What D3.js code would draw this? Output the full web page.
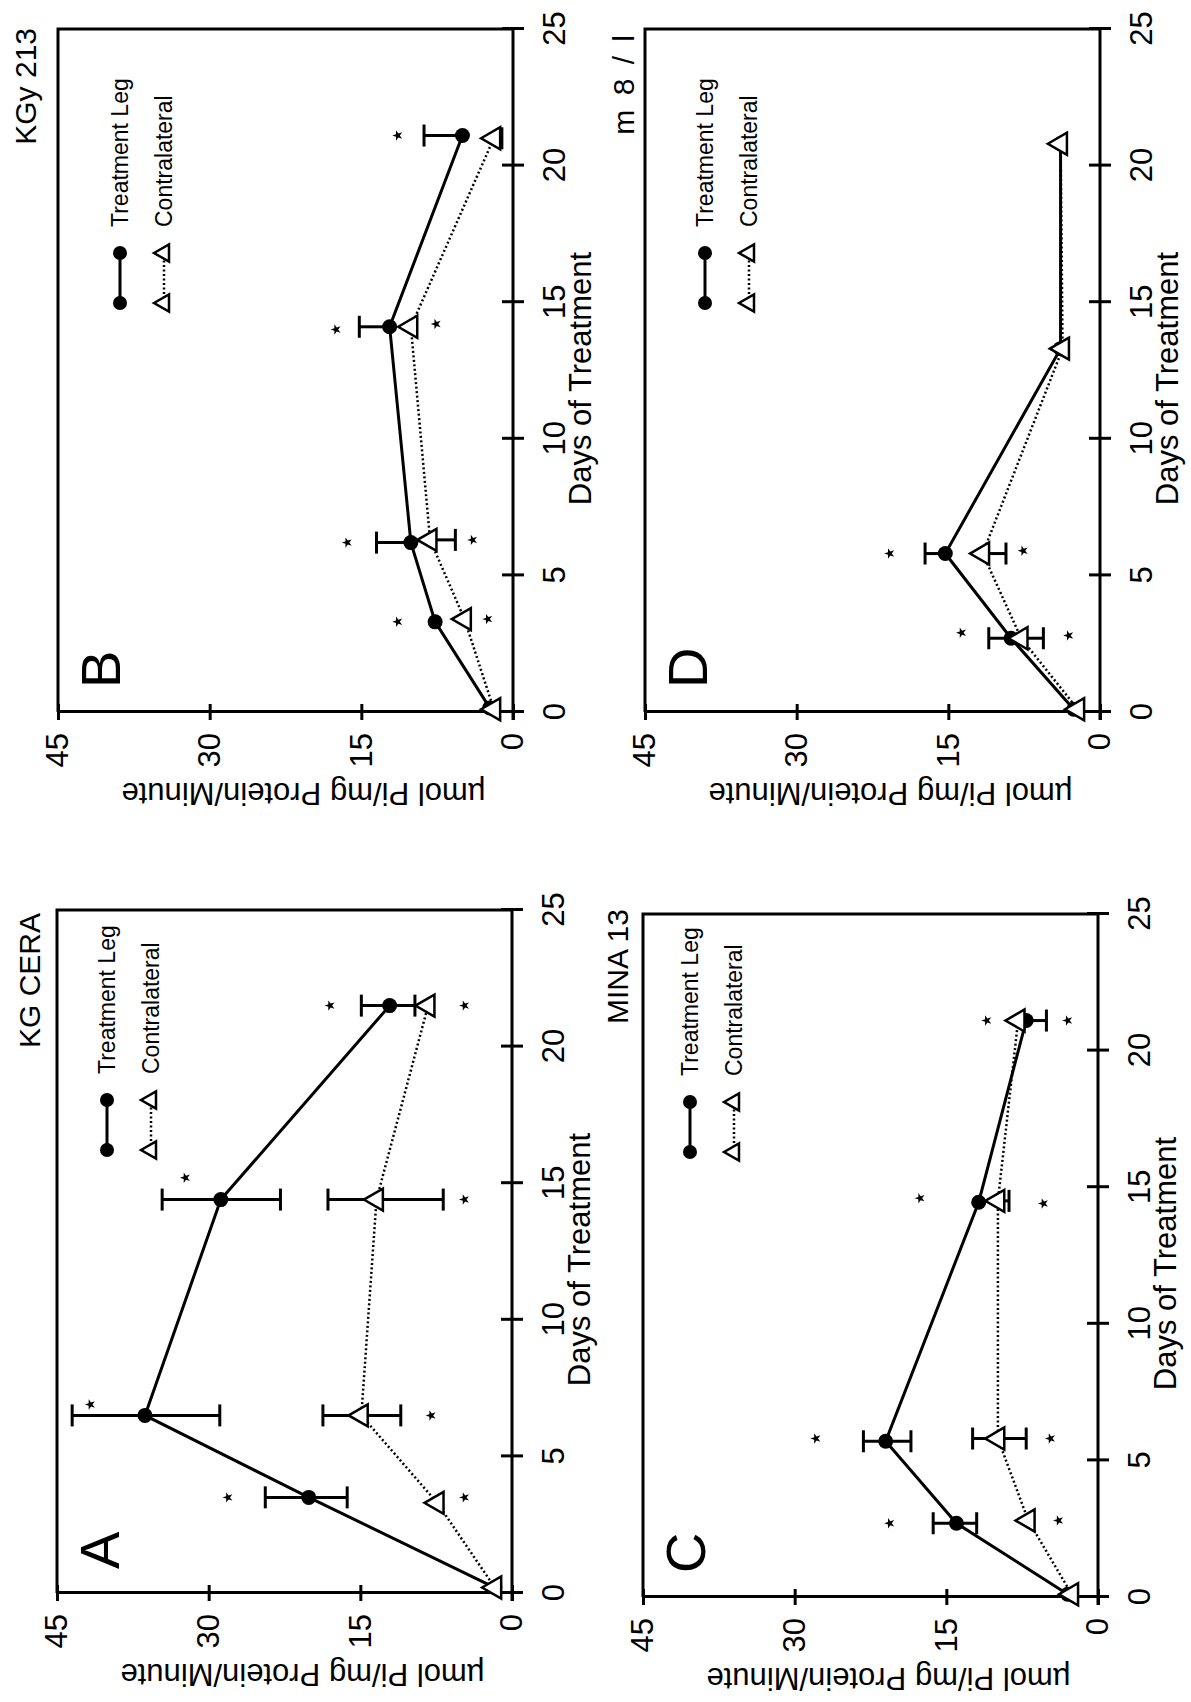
<!DOCTYPE html>
<html>
<head>
<meta charset="utf-8">
<script src="https://cdn.jsdelivr.net/npm/d3@7"></script>
<style>
  body { margin: 0; background: #fff; }
  svg { display: block; font-family: "Liberation Sans", Arial, Helvetica, sans-serif; }
</style>
</head>
<body>
<svg id="chart"></svg>
<script>
const DAY_TICKS = [0, 5, 10, 15, 20, 25];
const VALUE_TICKS = [0, 15, 30, 45];
const SERIES_NAMES = ['Treatment Leg', 'Contralateral'];
const X_TITLE = 'Days of Treatment';
const Y_TITLE = 'µmol Pi/mg Protein/Minute';

// panel A - KG CERA
const A_TREAT_DAYS = [0.2, 3.5, 6.5, 14.4, 21.5];
const A_TREAT = [1.7, 20.1, 36.3, 28.8, 12.1];
const A_TREAT_UP = [0, 4.3, 7.2, 5.8, 2.8];
const A_TREAT_DOWN = [0, 3.8, 7.4, 5.9, 2.5];
const A_CONTRA_DAYS = [0.2, 3.3, 6.5, 14.4, 21.5];
const A_CONTRA = [1.7, 7.4, 14.9, 13.4, 8.3];
const A_CONTRA_UP = [0, 0, 3.8, 4.8, 0];
const A_CONTRA_DOWN = [0, 0, 3.9, 6.6, 0];
const A_STARS = [[3.5, 28.1], [3.5, 4.7], [6.9, 41.7], [6.5, 8.0], [15.2, 32.3], [14.4, 4.7], [21.5, 18.0], [21.5, 4.7]];

// panel B - KGy 213
const B_TREAT_DAYS = [0.15, 3.3, 6.2, 14.1, 21.1];
const B_TREAT = [2.3, 7.7, 10.1, 12.2, 5.0];
const B_TREAT_UP = [0, 0, 3.4, 3.0, 3.8];
const B_TREAT_DOWN = [0, 0, 0, 0, 0];
const B_CONTRA_DAYS = [0.1, 3.4, 6.3, 14.1, 21.0];
const B_CONTRA = [1.9, 4.8, 8.2, 10.1, 1.9];
const B_CONTRA_UP = [0, 0, 0, 0, 0];
const B_CONTRA_DOWN = [0, 0, 2.5, 0, 0.8];
const B_STARS = [[3.3, 11.4], [3.4, 2.5], [6.2, 16.4], [6.3, 4.0], [14.0, 17.5], [14.2, 7.6], [21.1, 11.4]];

// panel C - MINA 13
const C_TREAT_DAYS = [0.1, 2.7, 5.7, 14.45, 21.1];
const C_TREAT = [3.0, 14.0, 21.0, 11.8, 7.1];
const C_TREAT_UP = [0, 2.3, 2.2, 0, 0];
const C_TREAT_DOWN = [0, 2.0, 2.5, 0, 2.0];
const C_CONTRA_DAYS = [0.1, 2.8, 5.8, 14.5, 21.1];
const C_CONTRA = [2.6, 6.9, 9.9, 9.9, 7.9];
const C_CONTRA_UP = [0, 0, 2.5, 0, 0];
const C_CONTRA_DOWN = [0, 0, 2.8, 1.1, 0];
const C_STARS = [[5.8, 27.9], [5.8, 4.7], [2.7, 20.6], [2.8, 3.9], [14.6, 17.6], [14.4, 5.4], [21.1, 11.0], [21.1, 3.0]];

// panel D - m 8 / l
const D_TREAT_DAYS = [0.1, 2.7, 5.8, 13.3, 20.8];
const D_TREAT = [2.6, 8.8, 15.3, 3.9, 3.9];
const D_TREAT_UP = [0, 2.2, 2.0, 0, 0];
const D_TREAT_DOWN = [0, 0, 0, 0, 0];
const D_CONTRA_DAYS = [0.1, 2.7, 5.8, 13.3, 20.8];
const D_CONTRA = [2.2, 7.8, 11.6, 3.7, 3.9];
const D_CONTRA_UP = [0, 0, 0, 0, 0];
const D_CONTRA_DOWN = [0, 2.2, 2.3, 0, 0];
const D_STARS = [[2.9, 13.7], [2.8, 3.1], [5.8, 20.8], [5.9, 7.6]];

const W = 683, H = 455;

const PANELS = [
  { key: 'A', note: 'KG CERA', x: 109, y: 57, noteX: 680, noteY: -17, legX: 443, legY: 50,
    treat: [A_TREAT_DAYS, A_TREAT, A_TREAT_UP, A_TREAT_DOWN],
    contra: [A_CONTRA_DAYS, A_CONTRA, A_CONTRA_UP, A_CONTRA_DOWN], stars: A_STARS },
  { key: 'B', note: 'KGy 213', x: 990, y: 58, noteX: 684, noteY: -22, legX: 409, legY: 62,
    treat: [B_TREAT_DAYS, B_TREAT, B_TREAT_UP, B_TREAT_DOWN],
    contra: [B_CONTRA_DAYS, B_CONTRA, B_CONTRA_UP, B_CONTRA_DOWN], stars: B_STARS },
  { key: 'C', note: 'MINA 13', x: 105, y: 643, noteX: 688, noteY: -15, legX: 445, legY: 47,
    treat: [C_TREAT_DAYS, C_TREAT, C_TREAT_UP, C_TREAT_DOWN],
    contra: [C_CONTRA_DAYS, C_CONTRA, C_CONTRA_UP, C_CONTRA_DOWN], stars: C_STARS },
  { key: 'D', note: 'm 8 / l', x: 990, y: 645, noteX: 680, noteY: -11, legX: 409, legY: 60,
    treat: [D_TREAT_DAYS, D_TREAT, D_TREAT_UP, D_TREAT_DOWN],
    contra: [D_CONTRA_DAYS, D_CONTRA, D_CONTRA_UP, D_CONTRA_DOWN], stars: D_STARS },
];

const svg = d3.select('#chart')
  .attr('width', 1191)
  .attr('height', 1702);

svg.append('rect').attr('width', 1191).attr('height', 1702).attr('fill', '#fff');

// the page is printed sideways: draw upright, then turn it
const page = svg.append('g')
  .attr('transform', 'translate(0,1702) rotate(-90)');

const x = d3.scaleLinear().domain([0, 25]).range([0, W]);
const y = d3.scaleLinear().domain([0, 45]).range([H, 0]);

const triangle = d3.symbol().type(d3.symbolTriangle).size(210);
const star = d3.symbol().type(d3.symbolStar).size(34);

const rows = s => s[0].map((d, i) => ({ day: d, v: s[1][i], up: s[2][i], down: s[3][i] }));

PANELS.forEach(P => {
  const g = page.append('g').attr('transform', `translate(${P.x},${P.y})`);

  // frame (top and right sides)
  g.append('path')
    .attr('d', `M0,0H${W}V${H}`)
    .attr('fill', 'none').attr('stroke', '#000').attr('stroke-width', 3);

  const ax = g.append('g')
    .attr('transform', `translate(0,${H})`)
    .call(d3.axisBottom(x).tickValues(DAY_TICKS).tickSize(11).tickSizeOuter(0));
  ax.select('.domain').attr('stroke-width', 3).attr('d', `M-8,0H${W}`);
  ax.selectAll('.tick line').attr('y1', -11).attr('stroke-width', 3);
  ax.selectAll('.tick text')
    .attr('y', 30).attr('dy', '0.71em')
    .attr('font-size', 31).attr('font-family', null).attr('fill', '#000');

  const ay = g.append('g')
    .call(d3.axisLeft(y).tickValues(VALUE_TICKS).tickSize(8).tickPadding(13).tickSizeOuter(0));
  ay.select('.domain').attr('stroke-width', 3);
  ay.selectAll('.tick line').attr('x1', 8).attr('stroke-width', 3);
  ay.selectAll('.tick text')
    .attr('font-size', 31).attr('font-family', null).attr('fill', '#000');

  g.append('text')
    .attr('x', W / 2 - 8).attr('y', H + 78)
    .attr('text-anchor', 'middle').attr('font-size', 31)
    .text(X_TITLE);

  g.append('text')
    .attr('transform', `translate(-71,${H / 2 + 18}) rotate(-90)`)
    .attr('text-anchor', 'middle').attr('font-size', 31)
    .text(Y_TITLE);

  g.append('text')
    .attr('x', 24).attr('y', 62)
    .attr('font-size', 56)
    .text(P.key);

  g.append('text')
    .attr('x', P.noteX).attr('y', P.noteY)
    .attr('text-anchor', 'end').attr('font-size', 30)
    .attr('letter-spacing', P.key === 'D' ? 3 : 0)
    .text(P.note);

  const treat = rows(P.treat);
  const contra = rows(P.contra);
  const line = d3.line().x(d => x(d.day)).y(d => y(d.v));

  g.append('path').datum(contra)
    .attr('d', line).attr('fill', 'none')
    .attr('stroke', '#000').attr('stroke-width', 2.5).attr('stroke-dasharray', '2,2.5');
  g.append('path').datum(treat)
    .attr('d', line).attr('fill', 'none')
    .attr('stroke', '#000').attr('stroke-width', 3);

  // error bars
  [...treat, ...contra].filter(d => d.up || d.down).forEach(d => {
    const cx = x(d.day);
    const y0 = y(d.v - d.down), y1 = y(d.v + d.up);
    const eb = g.append('g').attr('stroke', '#000').attr('stroke-width', 3);
    eb.append('line').attr('x1', cx).attr('x2', cx).attr('y1', y0).attr('y2', y1);
    if (d.up) eb.append('line').attr('x1', cx - 11).attr('x2', cx + 11).attr('y1', y1).attr('y2', y1);
    if (d.down) eb.append('line').attr('x1', cx - 11).attr('x2', cx + 11).attr('y1', y0).attr('y2', y0);
  });

  g.selectAll('circle.treat').data(treat).enter()
    .append('circle').attr('class', 'treat')
    .attr('cx', d => x(d.day)).attr('cy', d => y(d.v)).attr('r', 7.5)
    .attr('fill', '#000');

  g.selectAll('path.contra').data(contra).enter()
    .append('path').attr('class', 'contra')
    .attr('transform', d => `translate(${x(d.day)},${y(d.v)})`)
    .attr('d', triangle)
    .attr('fill', '#fff').attr('stroke', '#000').attr('stroke-width', 2.5);

  g.selectAll('path.star').data(P.stars).enter()
    .append('path').attr('class', 'star')
    .attr('transform', d => `translate(${x(d[0])},${y(d[1])})`)
    .attr('d', star).attr('fill', '#000');

  // legend
  const lg = g.append('g').attr('transform', `translate(${P.legX},${P.legY})`);
  lg.append('line').attr('x1', 0).attr('x2', 50).attr('y1', 0).attr('y2', 0)
    .attr('stroke', '#000').attr('stroke-width', 3);
  lg.selectAll('circle').data([0, 50]).enter().append('circle')
    .attr('cx', d => d).attr('cy', 0).attr('r', 7).attr('fill', '#000');
  lg.append('line').attr('x1', 0).attr('x2', 50).attr('y1', 44).attr('y2', 44)
    .attr('stroke', '#000').attr('stroke-width', 2.5).attr('stroke-dasharray', '2,2.5');
  lg.selectAll('path').data([0, 50]).enter().append('path')
    .attr('transform', d => `translate(${d},44)`)
    .attr('d', d3.symbol().type(d3.symbolTriangle).size(130))
    .attr('fill', '#fff').attr('stroke', '#000').attr('stroke-width', 2.5);
  lg.selectAll('text').data(SERIES_NAMES).enter().append('text')
    .attr('x', 76).attr('y', (d, i) => i * 44)
    .attr('dy', '0.35em').attr('font-size', 23)
    .text(d => d);
});
</script>
</body>
</html>
